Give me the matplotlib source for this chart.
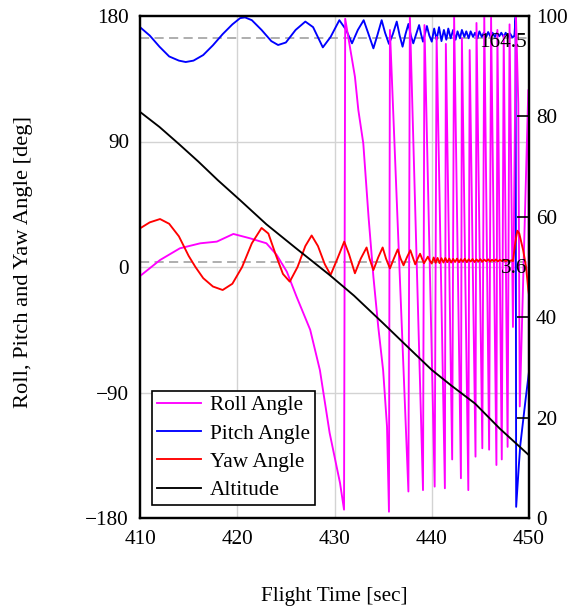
import matplotlib
matplotlib.use("Agg")
import matplotlib.pyplot as plt

plt.rcParams['font.family'] = ['Liberation Serif', 'DejaVu Serif']
FS = 15.3
plt.rcParams['font.size'] = FS

# ---------------- data ----------------
roll_t = [410, 412.06, 414.1, 416.2, 417.9, 419.6, 421.3, 423.0, 424.06, 425.1, 426.1, 427.5,
          428.5, 429.5, 430.57, 430.98, 431.1,
          432.1, 432.45, 432.96, 433.5, 434.0, 434.5, 435.0, 435.4, 435.6, 435.7,
          437.6, 437.75, 439.1, 439.25, 440.3, 440.5, 441.35, 441.45, 442.1, 442.3,
          443.0, 443.1, 443.76, 443.9, 444.5, 444.6, 445.2, 445.4, 445.9, 446.1,
          446.65, 446.75, 447.2, 447.4, 447.8, 448.0, 448.35, 448.66, 448.9, 449.05,
          449.93, 450.0]
roll_v = [-6.5, 5, 13.4, 17, 18.2, 23.7, 20.6, 17, 8.6, -3.4, -21.3, -45,
          -74, -119, -155, -174, 178,
          136.5, 112.6, 88.7, 36, -7, -43, -74, -114.5, -175.5, 170,
          -161, 180, -160, 173.5, -157.5, 165, -158.7, 160, -138, 180,
          -151.5, 164, -160, 155.6, -136, 175, -130, 180, -131, 179,
          -142, 170, -138, 166, -129, 174, -43, 180, 117, -100,
          127, -126]

pitch_t = [410, 411, 412, 413, 414, 414.7, 415.5, 416.5, 417.5, 418.5, 419.5, 420.3, 420.8,
           421.5, 422.5, 423.5, 424.2, 425, 426, 427, 427.8, 428.8, 429.6, 430.5, 431.2,
           431.8, 432.4, 433.0, 433.5, 434.0, 434.4, 434.85, 435.2, 435.6, 436.0, 436.4,
           436.7, 437.0, 437.3, 437.6, 437.85, 438.1, 438.4, 438.7, 438.9, 439.1, 439.3,
           439.5, 439.75, 440.0, 440.25, 440.5, 440.75, 441.0, 441.25, 441.5, 441.7,
           441.95, 442.2, 442.45, 442.65, 442.9, 443.1, 443.35, 443.55, 443.8, 444.0,
           444.25, 444.45, 444.7, 444.9, 445.15, 445.35, 445.6, 445.8, 446.05, 446.25,
           446.5, 446.7, 446.95, 447.15, 447.4, 447.6, 447.85, 448.05, 448.3, 448.5,
           448.62, 448.68, 448.95, 449.1, 449.4, 449.65, 450.0]
pitch_v = [172, 166, 158, 151, 148, 147, 148, 152, 159, 167, 174, 178.5, 179,
           177, 170, 162, 159.2, 161, 170, 176, 172, 157.5, 165, 177, 170,
           160.4, 170, 177, 167, 156.8, 166, 177, 168, 160, 167, 176,
           166, 158, 167, 174.3, 166, 160.4, 167, 173.5, 167, 161.6, 167,
           172.8, 166, 161.6, 171, 163, 172, 162, 170, 163, 171,
           164, 170, 163, 169, 164, 170, 165, 169, 164, 169,
           165, 168, 164, 169, 165, 168, 165, 168.5, 165, 168,
           165, 168, 165.5, 168, 165, 168, 165, 167.5, 164.5, 166,
           179, -172, -143, -128, -110, -95, -75]

yaw_t = [410, 411, 412.06, 413, 414, 415, 415.7, 416.5, 417.5, 418.5, 419.5, 420.5, 421.5,
         422.5, 423.2, 424, 424.7, 425.4, 426.2, 427, 427.65, 428.3, 429, 429.6, 430.3,
         431.0, 431.5, 432.1, 432.7, 433.3, 433.6, 434.0, 434.5, 434.95, 435.3, 435.7,
         436.1, 436.5, 436.8, 437.1, 437.45, 437.8, 438.05, 438.3, 438.55, 438.8, 439.0,
         439.2, 439.4, 439.6, 439.8, 440.0, 440.2, 440.4, 440.6, 440.8, 441.0, 441.2,
         441.4, 441.6, 441.8, 442.0, 442.2, 442.4, 442.6, 442.8, 443.0, 443.2, 443.4,
         443.6, 443.8, 444.0, 444.2, 444.4, 444.6, 444.8, 445.0, 445.2, 445.4, 445.6,
         445.8, 446.0, 446.2, 446.4, 446.6, 446.8, 447.0, 447.2, 447.4, 447.6, 447.8,
         448.0, 448.2, 448.35, 448.6, 448.8, 449.0, 449.4, 449.7, 449.93, 450.0]
yaw_v = [27.7, 32, 34.4, 31, 22, 8, 0, -8, -14, -16.5, -12, 0, 17,
         28, 24, 8, -5, -10.5, 0, 15, 22.6, 15, 2, -5.7, 6,
         18.2, 9, -4.5, 6, 14, 6, -2.2, 7, 14, 6, -1,
         6, 12.6, 6, 1.2, 7, 12, 7, 1.9, 6, 9.5, 6,
         2.7, 5, 7.4, 4.5, 2.5, 6.8, 3.0, 6.5, 2.8, 6.3, 3.2,
         6.4, 3.5, 6.0, 3.2, 5.8, 3.6, 6.0, 3.4, 5.6, 3.8, 5.9,
         3.5, 5.5, 3.9, 5.7, 3.6, 5.4, 4.0, 5.6, 3.8, 5.3, 4.1,
         5.5, 3.9, 5.2, 4.2, 5.4, 4.0, 5.1, 4.3, 5.3, 4.1, 5.0,
         4.3, 4.8, 4.2, 18, 26, 24, 12, 0, -16.5, -20]

alt_t = [410, 412, 414, 416, 418, 420.3, 423, 426, 429.5, 432, 435, 438, 440, 442,
         444.45, 447, 450]
alt_v = [80.9, 77.9, 74.5, 71.0, 67.3, 63.3, 58.5, 53.8, 48.4, 44.3, 38.8, 33.2, 29.5,
         26.4, 22.8, 17.8, 12.5]

ref_pitch = 164.5
ref_yaw = 3.6

xticks = [410, 420, 430, 440, 450]
yticks = [-180, -90, 0, 90, 180]
ytick_labels = ['\u2212180', '\u221290', '0', '90', '180']
y2ticks = [0, 20, 40, 60, 80, 100]

# ---------------- figure ----------------
fig = plt.figure(figsize=(5.68, 6.09), dpi=100)
ax = fig.add_axes([140/568, 1-518/609, 389/568, 502/609])
ax2 = ax.twinx()

grid_c = '#d3d3d3'
for xv in xticks[1:-1]:
    ax.axvline(xv, color=grid_c, lw=1.0, zorder=0)
for yv in yticks[1:-1]:
    ax.axhline(yv, color=grid_c, lw=1.0, zorder=0)

ax.axhline(ref_pitch, color='#999999', lw=1.1, ls=(0, (6, 3.5)), zorder=1)
ax.axhline(ref_yaw, color='#999999', lw=1.1, ls=(0, (6, 3.5)), zorder=1)

lw = 1.35
lp, = ax.plot(pitch_t, pitch_v, color='#0000ff', lw=lw, zorder=2, label='Pitch Angle')
lr, = ax.plot(roll_t, roll_v, color='#ff00ff', lw=lw, zorder=3, label='Roll Angle')
ly, = ax.plot(yaw_t, yaw_v, color='#ff0000', lw=lw, zorder=4, label='Yaw Angle')
la, = ax2.plot(alt_t, alt_v, color='black', lw=lw, label='Altitude')

ax.text(449.8, ref_pitch - 3.5, '164.5', ha='right', va='center', fontsize=FS, zorder=5)
ax.text(449.8, ref_yaw - 5, '3.6', ha='right', va='center', fontsize=FS, zorder=5)

ax.set_xlim(410, 450)
ax.set_ylim(-180, 180)
ax2.set_ylim(0, 100)
ax.set_xticks(xticks)
ax.set_yticks(yticks)
ax.set_yticklabels(ytick_labels)
ax2.set_yticks(y2ticks)

ax.tick_params(axis='both', length=0, labelsize=FS)
ax.tick_params(axis='x', pad=9)
ax.tick_params(axis='y', pad=8)
ax2.tick_params(axis='y', direction='in', length=9, width=1.2, labelsize=FS, pad=5)

for a in (ax, ax2):
    for s in a.spines.values():
        s.set_linewidth(1.6)
        s.set_color('black')

ax.set_xlabel('Flight Time [sec]', fontsize=FS)
ax.xaxis.set_label_coords(0.5, -0.138)
ax.set_ylabel('Roll, Pitch and Yaw Angle [deg]', fontsize=16.2)
ax.yaxis.set_label_coords(-0.275, 0.51)

leg = ax2.legend(handles=[lr, lp, ly, la], loc='lower left',
                 bbox_to_anchor=(0.031, 0.026), borderaxespad=0,
                 fancybox=False, framealpha=1, edgecolor='black',
                 handlelength=2.1, handletextpad=0.42, labelspacing=0.4,
                 borderpad=0.22, fontsize=FS)
leg.get_frame().set_linewidth(1.2)

fig.savefig('out.png', dpi=100)
